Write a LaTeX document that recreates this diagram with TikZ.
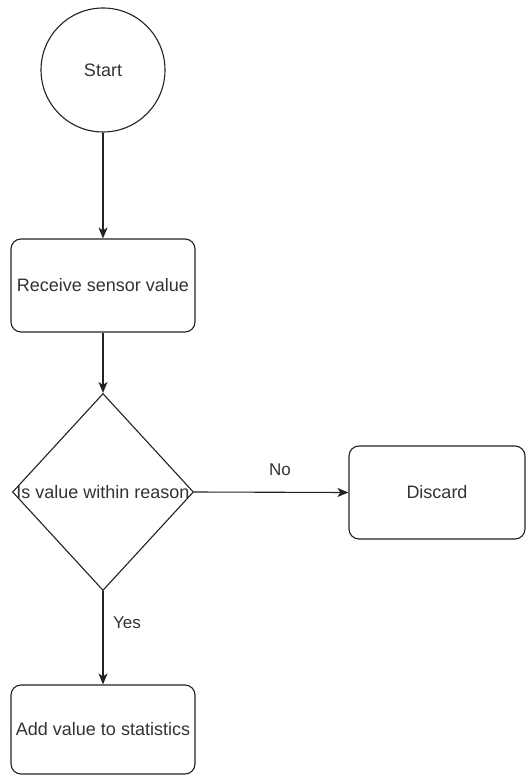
\documentclass[tikz,border=0pt]{standalone}
\usepackage{fontspec}
\setmainfont{Liberation Sans}
\usetikzlibrary{shapes.geometric,arrows.meta}
\definecolor{linec}{HTML}{222222}
\definecolor{textc}{HTML}{333333}
\begin{document}
\begin{tikzpicture}[x=1pt,y=-1pt,
  every node/.style={font=\fontsize{18}{20}\selectfont, text=textc},
  proc/.style={draw=linec, line width=1.1pt, rounded corners=10pt, inner sep=0pt, minimum width=184pt, minimum height=93pt},
  conn/.style={draw=linec, line width=1.1pt, -{Stealth[length=11pt,width=9pt,inset=3pt]}},
  lbl/.style={font=\fontsize{17}{19}\selectfont}
]
\useasboundingbox[fill=white] (0,0) rectangle (526,775);
\node[draw=linec, line width=1.1pt, circle, minimum size=124pt, inner sep=0pt] (start) at (103,70) {Start};
\node[proc] (recv) at (103,285.5) {Receive sensor value};
\node (dtext) at (103,492) {Is value within reason};
\node[draw=linec, line width=1.1pt, diamond, minimum width=181pt, minimum height=197pt, inner sep=0pt] (dec) at (103,492) {};
\node[proc, minimum width=176pt] (disc) at (437,492.5) {Discard};
\node[proc, minimum height=89pt] (add) at (103,729.5) {Add value to statistics};
\draw[conn] (start.south) -- (recv.north);
\draw[conn] (recv.south) -- (dec.north);
\draw[conn] (dec.east) -- (disc.west);
\draw[conn] (dec.south) -- (add.north);
\node[lbl] (no) at (280,470) {No};
\node[lbl] (yes) at (127,623) {Yes};
\end{tikzpicture}
\end{document}
